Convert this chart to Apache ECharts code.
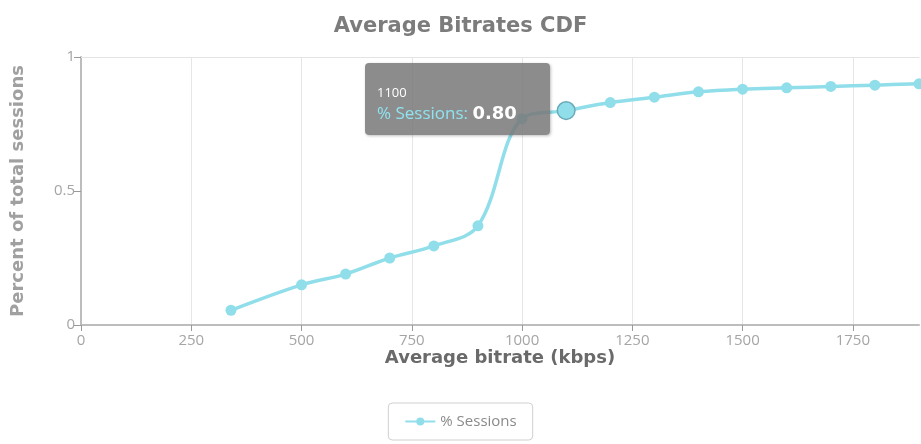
<!DOCTYPE html>
<html><head><meta charset="utf-8">
<script src="https://cdn.jsdelivr.net/npm/echarts@6/dist/echarts.min.js"></script>
<style>html,body{margin:0;padding:0;background:#fff}#c{width:921px;height:444px}</style>
</head><body><div id="c"></div>
<script>
const titleText = 'Average Bitrates CDF';
const seriesName = '% Sessions';
const xAxisName = 'Average bitrate (kbps)';
const yAxisName = 'Percent of total sessions';
const bitrates = [340, 500, 600, 700, 800, 900, 1000, 1100, 1200, 1300, 1400, 1500, 1600, 1700, 1800, 1900];
const sessions = [0.055, 0.15, 0.19, 0.25, 0.295, 0.37, 0.77, 0.80, 0.83, 0.85, 0.87, 0.88, 0.885, 0.89, 0.895, 0.90];
const xTicks = [0, 250, 500, 750, 1000, 1250, 1500, 1750];
const yTicks = [0, 0.5, 1];
const highlightIndex = 7;

const chart = echarts.init(document.getElementById('c'));
const lineColor = '#90deea';
chart.setOption({
  animation: false,
  title: { text: titleText, left: 'center', top: 11,
    textStyle: { fontFamily: 'DejaVu Sans', fontSize: 21, fontWeight: 'bold', color: '#7c7c7c' } },
  grid: { left: 81, right: 2, top: 57, bottom: 119, containLabel: false },
  tooltip: {
    trigger: 'item', alwaysShowContent: true, triggerOn: 'none',
    backgroundColor: 'rgba(120,120,120,0.85)', borderWidth: 0, borderRadius: 4, padding: [0, 12],
    extraCssText: 'box-shadow:1px 1px 3px rgba(0,0,0,0.25);width:161px;height:72px;box-sizing:content-box;',
    position: function () { return [365, 63]; },
    formatter: function (p) {
      return '<div style="font-family:Open Sans;font-size:13px;color:#fff;line-height:16px;margin-top:21px">' + p.value[0] + '</div>' +
        '<div style="font-family:Open Sans;font-size:17px;line-height:26px;color:#8fe3f0;white-space:nowrap">' + p.seriesName +
        ': <b style="font-family:DejaVu Sans;font-size:18px;color:#fff">' + p.value[1].toFixed(2) + '</b></div>';
    }
  },
  legend: {
    top: 403, left: 'center', data: [seriesName],
    borderColor: '#cfcfcf', borderWidth: 1, borderRadius: 4, padding: [11, 16],
    itemWidth: 30, itemHeight: 10,
    textStyle: { fontFamily: 'Open Sans', fontSize: 15, color: '#8a8a8a' }
  },
  xAxis: [{
    type: 'value', min: 0, max: 1900, interval: 250,
    name: xAxisName, nameLocation: 'middle', nameGap: 24, nameMoveOverlap: false,
    nameTextStyle: { fontFamily: 'DejaVu Sans', fontSize: 18, fontWeight: 'bold', color: '#6a6a6a' },
    axisLine: { show: true, lineStyle: { color: '#bdbdbd', width: 2 } },
    axisTick: { show: true, length: 6, lineStyle: { color: '#9a9a9a', width: 1 }, customValues: xTicks },
    axisLabel: { fontFamily: 'Open Sans', fontSize: 15, color: '#a5a5a5', margin: 8, customValues: xTicks,
      formatter: function (v) { return String(v); } },
    splitLine: { show: true, lineStyle: { color: '#e6e6e6', width: 1 } }
  }, {
    type: 'value', position: 'top', min: 0, max: 1900,
    axisLine: { show: true, lineStyle: { color: '#e3e3e3', width: 1 } },
    axisTick: { show: false }, axisLabel: { show: false }, splitLine: { show: false }
  }],
  yAxis: {
    type: 'value', min: 0, max: 1, interval: 0.5,
    name: yAxisName, nameLocation: 'middle', nameGap: 54, nameRotate: 90, nameMoveOverlap: false,
    nameTextStyle: { fontFamily: 'DejaVu Sans', fontSize: 18, fontWeight: 'bold', color: '#a0a0a0' },
    axisLine: { show: true, lineStyle: { color: '#bdbdbd', width: 2 } },
    axisTick: { show: true, length: 7, lineStyle: { color: '#9a9a9a', width: 1 } },
    axisLabel: { fontFamily: 'Open Sans', fontSize: 15, color: '#a5a5a5', margin: 6,
      customValues: yTicks, formatter: function (v) { return String(v); } },
    splitLine: { show: false }
  },
  series: [{
    name: seriesName, type: 'line', xAxisIndex: 0,
    data: bitrates.map(function (b, i) { return [b, sessions[i]]; }),
    smooth: 0.35,
    symbol: 'circle', symbolSize: 11,
    lineStyle: { color: lineColor, width: 3.5 },
    itemStyle: { color: lineColor },
    emphasis: { scale: 1.6, focus: 'none', lineStyle: { width: 3.5, color: lineColor },
      itemStyle: { color: lineColor, borderColor: '#6aaab8', borderWidth: 1.5 } }
  }]
});
chart.dispatchAction({ type: 'highlight', seriesIndex: 0, dataIndex: highlightIndex });
chart.dispatchAction({ type: 'showTip', seriesIndex: 0, dataIndex: highlightIndex });
</script></body></html>
